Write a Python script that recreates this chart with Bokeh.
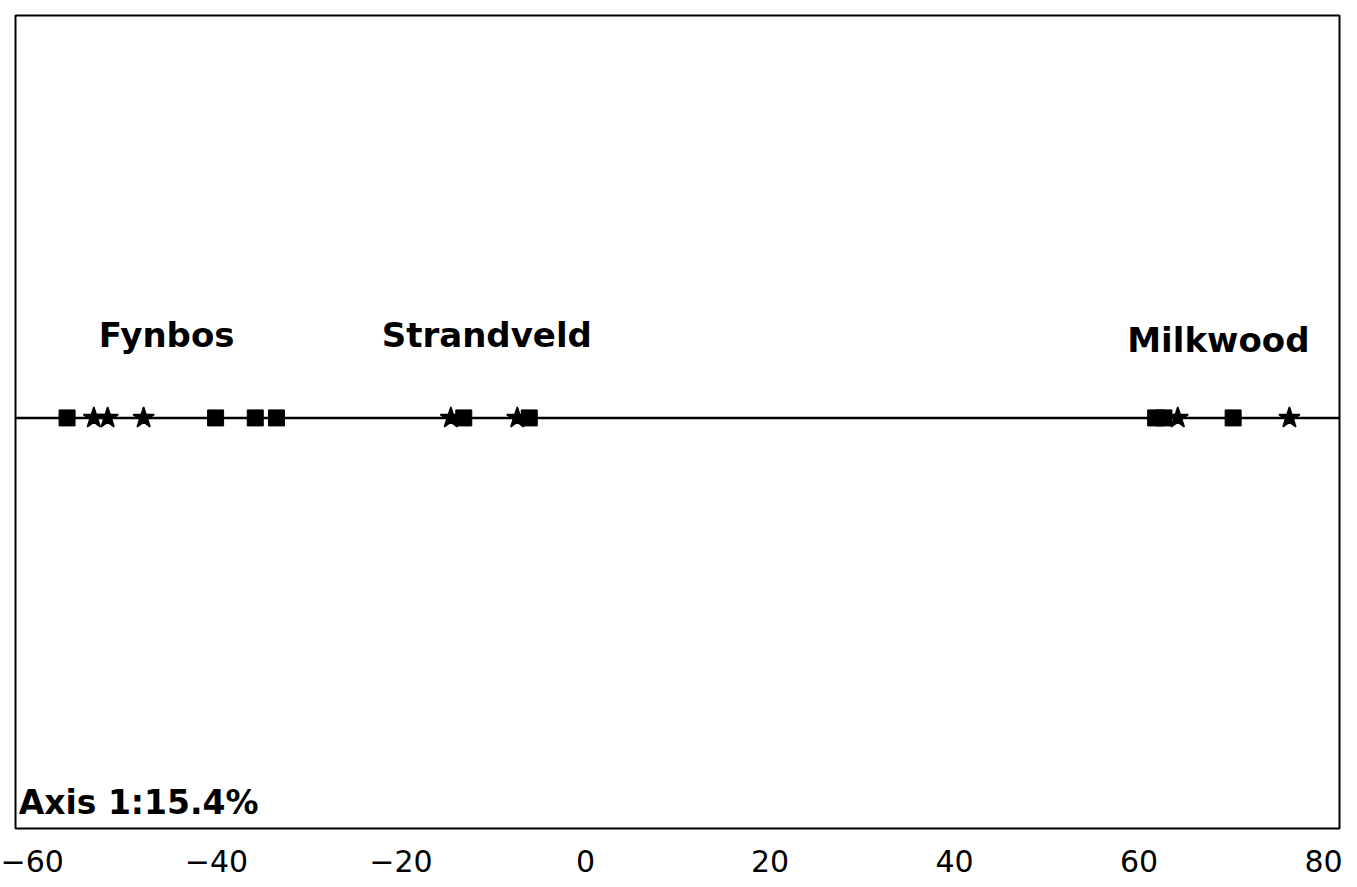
from bokeh.plotting import figure
from bokeh.models import Range1d, Span, Label, FixedTicker
from bokeh.embed import file_html
from bokeh.resources import INLINE

# Data (Axis 1 scores)
square_x = [-56.2, -40.1, -35.8, -33.5, -13.2, -6.1, 61.8, 62.7, 70.2]
star_x = [-53.3, -51.8, -47.9, -14.6, -7.4, 64.2, 76.3]
group_names = ["Fynbos", "Strandveld", "Milkwood"]
group_label_x = [-45.4, -10.7, 68.6]
group_label_y = [0.205, 0.205, 0.192]
tick_values = [-60, -40, -20, 0, 20, 40, 60, 80]
axis_text = "Axis 1:15.4%"

p = figure(width=1357, height=887, output_backend="svg", toolbar_location=None,
           x_range=Range1d(-61.79, 81.73), y_range=Range1d(-1.01, 0.99),
           min_border_left=15, min_border_right=18, min_border_top=15,
           min_border_bottom=59)
p.background_fill_color = "white"
p.border_fill_color = "white"
p.outline_line_color = "black"
p.outline_line_width = 2
p.grid.visible = False
p.yaxis.visible = False

xa = p.xaxis[0]
xa.ticker = FixedTicker(ticks=tick_values)
xa.axis_line_color = None
xa.major_tick_line_color = None
xa.minor_tick_line_color = None
xa.major_label_standoff = 15
xa.major_label_text_font = "DejaVu Sans"
xa.major_label_text_font_size = "30px"
xa.major_label_text_color = "black"

p.add_layout(Span(location=0, dimension="width", line_color="black", line_width=2.5))

p.scatter(square_x, [0] * len(square_x), marker="square", size=16,
          fill_color="black", line_color="black")
p.scatter(star_x, [0] * len(star_x), marker="star", size=22,
          fill_color="black", line_color="black", line_width=1.5)

for name, lx, ly in zip(group_names, group_label_x, group_label_y):
    p.add_layout(Label(x=lx, y=ly, text=name, text_align="center",
                       text_baseline="alphabetic", text_font="DejaVu Sans",
                       text_font_style="bold", text_font_size="34px",
                       text_color="black"))

p.add_layout(Label(x=-61.45, y=-0.945, text=axis_text, text_align="left",
                   text_baseline="alphabetic", text_font="DejaVu Sans",
                   text_font_style="bold", text_font_size="33px",
                   text_color="black"))

open("out.html", "w").write(file_html(p, INLINE))
